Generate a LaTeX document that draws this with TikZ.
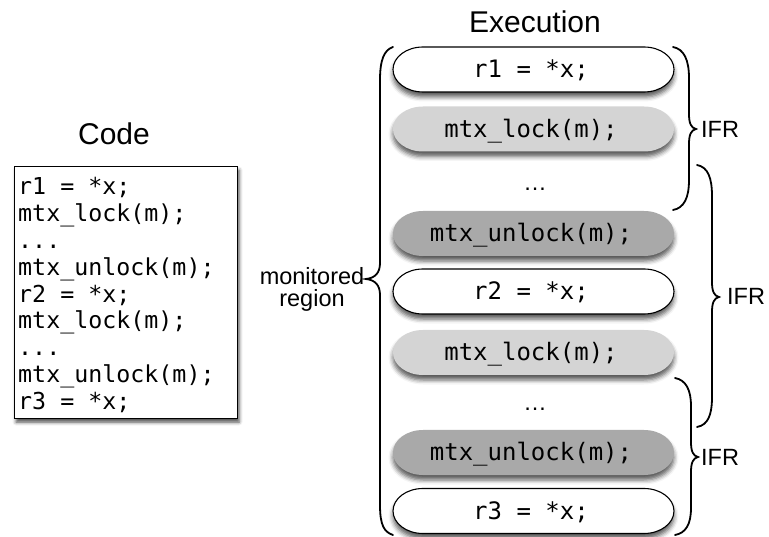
\documentclass[tikz,border=0pt]{standalone}
\usepackage{fontspec}
\setmainfont{Liberation Sans}
\newfontfamily\codefont{DejaVu Sans Mono}
\usetikzlibrary{shadows.blur}

\begin{document}
\begin{tikzpicture}[x=1pt,y=-1pt,
  title/.style={font=\fontsize{30}{36}\selectfont, anchor=base, inner sep=0pt},
  lbl/.style={font=\fontsize{23.5}{22}\selectfont, inner sep=0pt},
  codetext/.style={font=\codefont\fontsize{23.3}{26.9}\selectfont, inner sep=0pt},
  pilltext/.style={font=\codefont\fontsize{24}{26}\selectfont, inner sep=0pt,
                   text height=16.5pt, text depth=0pt},
  brace/.style={line width=1.8pt, line cap=round},
  softshadow/.style={blur shadow={shadow xshift=0pt, shadow yshift=-5pt,
                     shadow blur radius=4.5pt, shadow opacity=65}},
  % capsule outline with elliptical ends, centred on the current shift
  capsule/.style={insert path={(-110.5,-22.5) -- (110.5,-22.5)
      .. controls (127.07,-22.5) and (140.5,-12.43) .. (140.5,0)
      .. controls (140.5,12.43) and (127.07,22.5) .. (110.5,22.5)
      -- (-110.5,22.5)
      .. controls (-127.07,22.5) and (-140.5,12.43) .. (-140.5,0)
      .. controls (-140.5,-12.43) and (-127.07,-22.5) .. (-110.5,-22.5) -- cycle}},
  plain/.style={fill=white, draw=black, line width=1.1pt, softshadow},
  lockfill/.style={fill=lockgray, softshadow},
  unlockfill/.style={fill=unlockgray, softshadow},
]
\definecolor{lockgray}{HTML}{D4D4D4}
\definecolor{unlockgray}{HTML}{A9A9A9}
\useasboundingbox (0,0) rectangle (769,537);

% ---- source listing ----
\node[title] (codetitle) at (114,145) {Code};
\node[draw, fill=white, line width=1pt, minimum width=223pt, minimum height=252pt,
      anchor=north west, inner sep=0pt,
      blur shadow={shadow xshift=1.5pt, shadow yshift=-3.5pt, shadow blur radius=3.5pt, shadow opacity=70}]
      (box) at (14,166) {};
\node[codetext, align=left, anchor=north west] (listing) at (18,177)
  {r1 = *x;\\mtx\_lock(m);\\...\\mtx\_unlock(m);\\r2 = *x;\\mtx\_lock(m);\\...\\mtx\_unlock(m);\\r3 = *x;};

% ---- execution trace ----
\node[title] (exectitle) at (535,33) {Execution};

\path[plain,      shift={(533.5,69.5)}]  [capsule];
\path[lockfill,   shift={(533.5,129)}]   [capsule];
\path[unlockfill, shift={(533.5,233.5)}] [capsule];
\path[plain,      shift={(533.5,291.5)}] [capsule];
\path[lockfill,   shift={(533.5,352.5)}] [capsule];
\path[unlockfill, shift={(533.5,452.5)}] [capsule];
\path[plain,      shift={(533.5,511)}]   [capsule];

\node[pilltext] (e1) at (531,69.5)  {r1 = *x;};
\node[pilltext] (e2) at (531,129)   {mtx\_lock(m);};
\node[lbl, anchor=base] (d1) at (535,191) {…};
\node[pilltext] (e3) at (531,233.5) {mtx\_unlock(m);};
\node[pilltext] (e4) at (531,291.5) {r2 = *x;};
\node[pilltext] (e5) at (531,352.5) {mtx\_lock(m);};
\node[lbl, anchor=base] (d2) at (535,410) {…};
\node[pilltext] (e6) at (531,452.5) {mtx\_unlock(m);};
\node[pilltext] (e7) at (531,511)   {r3 = *x;};

% ---- monitored region brace ----
\draw[brace] (393,47) .. controls (384,50) and (380,60) .. (380,80)
  -- (380,263) .. controls (380,273) and (375,278) .. (366,279)
  .. controls (375,280) and (380,285) .. (380,295)
  -- (380,505) .. controls (380,525) and (384,532) .. (393,535);
\node[lbl, align=center] (mon) at (312,289) {monitored\\region};

% ---- IFR braces ----
\draw[brace] (673,47) .. controls (684,49) and (689,60) .. (689,78)
  -- (689,114) .. controls (689,123) and (691,128) .. (696,129)
  .. controls (691,130) and (689,135) .. (689,144)
  -- (689,180) .. controls (689,198) and (684,208) .. (673,210);
\node[lbl, anchor=base west] (ifr1) at (701,138) {IFR};

\draw[brace] (697,165) .. controls (708,167) and (712,178) .. (712,196)
  -- (712,282) .. controls (712,291) and (714,296) .. (719,297)
  .. controls (714,298) and (712,303) .. (712,312)
  -- (712,397) .. controls (712,415) and (708,425) .. (697,427);
\node[lbl, anchor=base west] (ifr2) at (727,305) {IFR};

\draw[brace] (675,378) .. controls (686,380) and (691,390) .. (691,406)
  -- (691,442) .. controls (691,451) and (693,456) .. (698,457)
  .. controls (693,458) and (691,463) .. (691,472)
  -- (691,508) .. controls (691,524) and (686,533) .. (675,535);
\node[lbl, anchor=base west] (ifr3) at (701,465) {IFR};
\end{tikzpicture}
\end{document}
